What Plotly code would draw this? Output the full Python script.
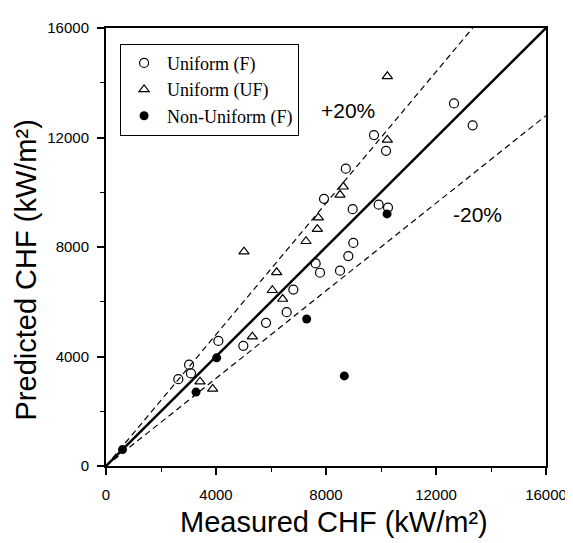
import plotly.graph_objects as go

# Data (kW/m^2)
uf_measured = [2630, 3090, 3020, 4085, 4994, 5818, 6570, 6812, 7782, 7624, 8509,
               8812, 8994, 8970, 7927, 8720, 9915, 10254, 9745, 10182, 12655, 13333]
uf_predicted = [3170, 3380, 3700, 4570, 4390, 5230, 5620, 6445, 7060, 7400, 7135,
                7670, 8150, 9380, 9760, 10860, 9545, 9440, 12090, 11515, 13245, 12445]

uuf_measured = [3418, 3879, 5321, 6424, 6048, 6206, 5018, 7273, 7685, 7721, 8509,
                8630, 10230, 10230]
uuf_predicted = [3080, 2815, 4725, 6100, 6420, 7075, 7830, 8210, 8650, 9070, 9905,
                 10200, 11910, 14235]

nu_measured = [600, 3273, 4024, 7297, 8667, 10220]
nu_predicted = [600, 2700, 3950, 5370, 3290, 9210]

series_names = ["Uniform (F)", "Uniform (UF)", "Non-Uniform (F)"]
axis_max = 16000
tick_values = [0, 4000, 8000, 12000, 16000]
tick_labels = ["0", "4000", "8000", "12000", "16000"]
band = 0.2

fig = go.Figure()

# reference lines
fig.add_trace(go.Scatter(x=[0, axis_max], y=[0, axis_max], mode="lines",
                         line=dict(color="black", width=2.5), showlegend=False, hoverinfo="skip"))
fig.add_trace(go.Scatter(x=[0, axis_max / (1 + band)], y=[0, axis_max], mode="lines",
                         line=dict(color="black", width=1.2, dash="6px,4px"), showlegend=False, hoverinfo="skip"))
fig.add_trace(go.Scatter(x=[0, axis_max], y=[0, axis_max * (1 - band)], mode="lines",
                         line=dict(color="black", width=1.2, dash="6px,4px"), showlegend=False, hoverinfo="skip"))

fig.add_trace(go.Scatter(x=uf_measured, y=uf_predicted, mode="markers", name=series_names[0],
                         marker=dict(symbol="circle-open", size=9, color="black", line=dict(width=1.2, color="black"))))
fig.add_trace(go.Scatter(x=uuf_measured, y=uuf_predicted, mode="markers", name=series_names[1],
                         marker=dict(symbol="triangle-up-open", size=9, color="black", line=dict(width=1.2, color="black"))))
fig.add_trace(go.Scatter(x=nu_measured, y=nu_predicted, mode="markers", name=series_names[2],
                         marker=dict(symbol="circle", size=9, color="black")))

axis_common = dict(
    range=[0, axis_max], tickvals=tick_values, ticktext=tick_labels, ticks="outside", ticklen=7, tickwidth=1.5,
    tickcolor="black", showline=True, linecolor="black", linewidth=2, mirror=True,
    showgrid=False, zeroline=False,
    tickfont=dict(family="Liberation Sans, Arial", size=15, color="black"),
    minor=dict(dtick=2000, ticks="outside", ticklen=4, tickcolor="black", tickwidth=1.2, showgrid=False),
)

title_font = dict(family="Liberation Sans, Arial", size=29, color="black")

fig.update_layout(
    width=573, height=543,
    margin=dict(l=98, r=35, t=11, b=85),
    paper_bgcolor="white", plot_bgcolor="white",
    xaxis=dict(**axis_common, ticklabelstandoff=7),
    yaxis=dict(**axis_common, ticklabelstandoff=5),
    legend=dict(x=0.032, y=0.964, xanchor="left", yanchor="top",
                bordercolor="black", borderwidth=1, bgcolor="white",
                font=dict(family="Liberation Serif, Times New Roman", size=18, color="black"),
                itemwidth=36, tracegroupgap=0),
    annotations=[
        dict(x=8800, y=13000, text="+20%", showarrow=False, xref="x", yref="y",
             font=dict(family="Liberation Sans, Arial", size=21, color="black")),
        dict(x=13500, y=9200, text="-20%", showarrow=False, xref="x", yref="y",
             font=dict(family="Liberation Sans, Arial", size=21, color="black")),
        dict(x=0.518, y=-0.1275, xref="paper", yref="paper", text="Measured CHF (kW/m²)",
             showarrow=False, font=title_font, xanchor="center", yanchor="middle"),
        dict(x=-0.182, y=0.4485, xref="paper", yref="paper", text="Predicted CHF (kW/m²)",
             showarrow=False, font=title_font, textangle=-90, xanchor="center", yanchor="middle"),
    ],
    showlegend=True,
)

fig.write_html("out.html")
